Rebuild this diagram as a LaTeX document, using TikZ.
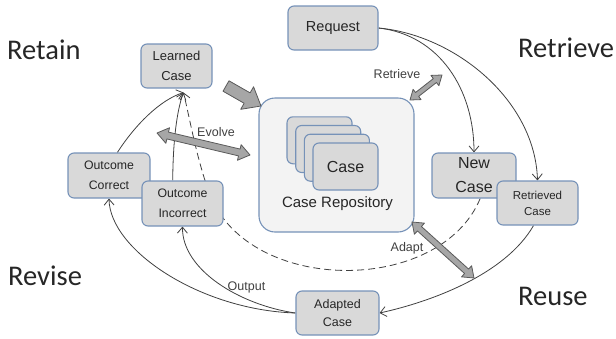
\documentclass[tikz,border=0pt]{standalone}
\usepackage{fontspec}
\setmainfont{Liberation Sans}
\newfontfamily\stagefont{Carlito}
\usetikzlibrary{arrows.meta,calc,backgrounds}

\definecolor{boxline}{RGB}{118,146,184}
\definecolor{boxfill}{RGB}{217,217,217}
\definecolor{repofill}{RGB}{243,243,243}
\definecolor{blockfill}{RGB}{166,166,166}
\definecolor{blockline}{RGB}{90,90,90}
\definecolor{labeltext}{RGB}{64,64,64}

\newcommand{\boxfont}[2]{\fontsize{#1}{#2}\selectfont}
% grey block arrows: #1 from, #2 to, #3 shaft half width, #4 head half width, #5 head length
\newcommand{\twoheadblock}[5]{%
  \coordinate (ha) at ($(#1)!#5!(#2)$);
  \coordinate (hb) at ($(#2)!#5!(#1)$);
  \filldraw[blockarrow] (#1) -- ($(ha)!#4!-90:(#2)$) -- ($(ha)!#3!-90:(#2)$)
    -- ($(hb)!#3!90:(#1)$) -- ($(hb)!#4!90:(#1)$) -- (#2)
    -- ($(hb)!#4!-90:(#1)$) -- ($(hb)!#3!-90:(#1)$)
    -- ($(ha)!#3!90:(#2)$) -- ($(ha)!#4!90:(#2)$) -- cycle;}
\newcommand{\oneheadblock}[5]{%
  \coordinate (hb) at ($(#2)!#5!(#1)$);
  \filldraw[blockarrow] ($(#1)!#3!90:(#2)$) -- ($(hb)!#3!-90:(#1)$)
    -- ($(hb)!#4!-90:(#1)$) -- (#2) -- ($(hb)!#4!90:(#1)$)
    -- ($(hb)!#3!90:(#1)$) -- ($(#1)!#3!-90:(#2)$) -- cycle;}

\begin{document}
\begin{tikzpicture}[x=1pt,y=-1pt,>={Straight Barb[length=6pt,width=10pt]},
  box/.style={draw=boxline,fill=boxfill,line width=1.1pt,rounded corners=6pt,align=center,inner sep=0pt,text=black!85},
  repo/.style={draw=boxline,fill=repofill,line width=1.1pt,rounded corners=16pt},
  flow/.style={->,draw=black!75,line width=0.8pt},
  blockarrow/.style={fill=blockfill,draw=blockline,line width=0.8pt,line join=round},
  note/.style={text=labeltext,font=\boxfont{12.5}{14},inner sep=0pt},
  stage/.style={font=\stagefont\boxfont{28.5}{32},text=black!85,anchor=base west,inner sep=0pt}]
\useasboundingbox (0,0) rectangle (616,338);

% the four steps
\node[stage] (retain) at (7,59) {Retain};
\node[stage] (retrieve) at (518,57) {Retrieve};
\node[stage] (revise) at (8,285) {Revise};
\node[stage] (reuse) at (518,305) {Reuse};

% repository with its stack of cases
\node[repo,minimum width=155pt,minimum height=134pt] (repo) at (336.5,165) {};
\foreach \i in {0,1,2}
  \node[box,minimum width=65pt,minimum height=47pt] (stack\i) at ({319.5+8.7*\i},{140.3+8.7*\i}) {};
\node[box,minimum width=65pt,minimum height=47pt,font=\boxfont{16}{18}] (case) at (345.5,166.5) {Case};
\node[font=\boxfont{15}{17},text=black!85,inner sep=0pt] (repotext) at (337.5,204) {Case Repository};

% case boxes
\node[box,minimum width=90pt,minimum height=44pt,font=\boxfont{14.5}{18}] (request) at (333,28) {Request};
\node[box,minimum width=71pt,minimum height=44pt,font=\boxfont{13}{20}] (learned) at (176.5,66) {Learned\\Case};
\node[box,minimum width=84pt,minimum height=45pt,font=\boxfont{16}{24}] (newcase) at (474,175.5) {New\\Case};
\node[box,minimum width=81pt,minimum height=44pt,font=\boxfont{11.5}{16}] (retrieved) at (537.5,203) {Retrieved\\Case};
\node[box,minimum width=83pt,minimum height=44pt,font=\boxfont{12.5}{18}] (adapted) at (337.5,313) {Adapted\\Case};
\node[box,minimum width=82pt,minimum height=45pt,font=\boxfont{12.3}{20}] (outcorrect) at (109,175.5) {Outcome\\Correct};
\node[box,minimum width=81pt,minimum height=45pt,font=\boxfont{12.3}{20}] (outincorrect) at (182.5,203.5) {Outcome\\Incorrect};

\coordinate (learnin) at ($(learned.south)+(7,4)$);

\begin{pgfonlayer}{background}
\draw[flow] (request.east) .. controls (440,35) and (474,90) .. (newcase.north);
\draw[flow] (request.east) .. controls (455,35) and (535,100) .. (retrieved.north);
\draw[flow] (retrieved.-100) .. controls (505,275) and (430,302) .. (adapted.east);
\draw[flow] (adapted.west) .. controls (200,310) and (110,250) .. (outcorrect.south);
\draw[flow] (adapted.west) .. controls (240,305) and (182,270) .. node[note,pos=0.3,above=6pt] (output) {Output} (outincorrect.south);
\draw[flow] (outcorrect.70) .. controls (135,125) and (160,100) .. (learnin);
\draw[flow] (outincorrect.113) .. controls (173,140) and (177,110) .. (learnin);
\draw[flow,dashed,dash pattern=on 7pt off 4pt] (newcase.-75) .. controls (440,295) and (250,295) .. (210,195)
  .. controls (197,160) and (190,120) .. (learnin);
\end{pgfonlayer}

% grey block arrows
\coordinate (keepA) at (226,86);
\coordinate (keepB) at (261,106);
\oneheadblock{keepA}{keepB}{6pt}{13pt}{16pt}
\coordinate (retrA) at (410,100);
\coordinate (retrB) at (442,75);
\twoheadblock{retrA}{retrB}{2.5pt}{6.5pt}{9pt}
\coordinate (evolA) at (157,133);
\coordinate (evolB) at (250,155);
\twoheadblock{evolA}{evolB}{3.5pt}{8pt}{11pt}
\coordinate (adapA) at (412,222);
\coordinate (adapB) at (474,278);
\twoheadblock{adapA}{adapB}{3pt}{7.5pt}{10pt}

\node[note] (retrlabel) at (397,74) {Retrieve};
\node[note] (evollabel) at (216,132) {Evolve};
\node[note] (adaplabel) at (407,248) {Adapt};
\end{tikzpicture}
\end{document}
